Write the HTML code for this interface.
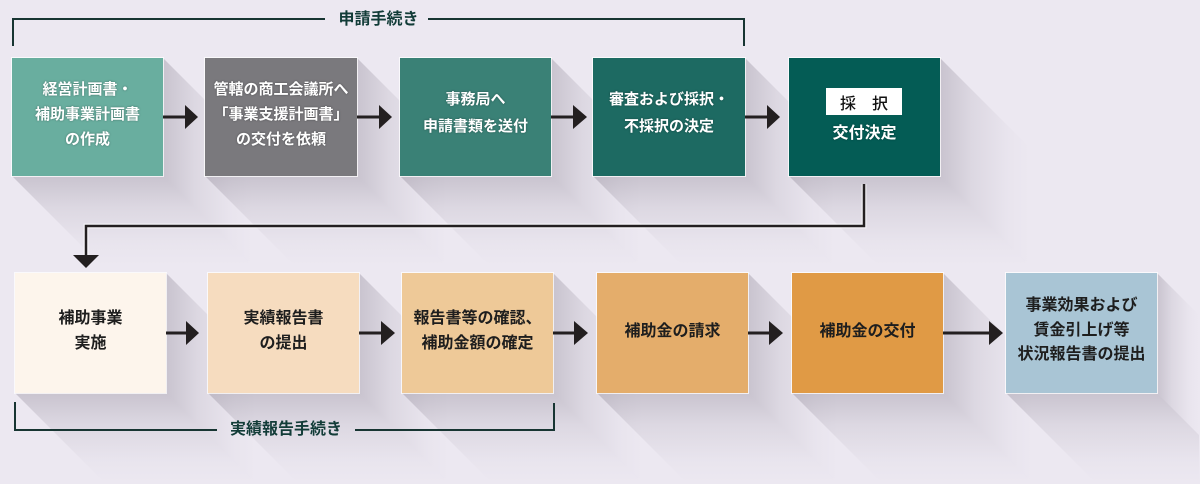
<!DOCTYPE html>
<html><head><meta charset="utf-8">
<style>
html,body{margin:0;padding:0;width:1200px;height:484px;overflow:hidden;}
body{background:#ece8f1;position:relative;font-family:"Liberation Sans","Noto Sans CJK JP",sans-serif;}
svg{position:absolute;left:0;top:0;}
.t{position:absolute;display:flex;flex-direction:column;align-items:center;justify-content:center;text-align:center;white-space:nowrap;}
.w{color:#fff;font-weight:700;font-size:15px;line-height:25px;text-shadow:0 0 2px rgba(0,0,0,0.35);}
.d{color:#1e1e1e;font-weight:700;font-size:16px;line-height:25px;}
.lbl{position:absolute;font-size:16px;color:#123c38;font-weight:700;white-space:nowrap;line-height:20px;}
</style></head><body>
<svg width="1200" height="484" viewBox="0 0 1200 484">
<defs>
<linearGradient id="gv" x1="0" y1="0" x2="0" y2="1">
<stop offset="0" stop-color="#3c3246" stop-opacity="0.2"/>
<stop offset="0.35" stop-color="#3c3246" stop-opacity="0.09"/>
<stop offset="0.75" stop-color="#3c3246" stop-opacity="0.02"/>
<stop offset="1" stop-color="#3c3246" stop-opacity="0"/>
</linearGradient>
<linearGradient id="gh" x1="0" y1="0" x2="1" y2="0">
<stop offset="0" stop-color="#3c3246" stop-opacity="0.2"/>
<stop offset="0.35" stop-color="#3c3246" stop-opacity="0.09"/>
<stop offset="0.75" stop-color="#3c3246" stop-opacity="0.02"/>
<stop offset="1" stop-color="#3c3246" stop-opacity="0"/>
</linearGradient>
</defs>
<!-- shadows top row (y 58-176) L=90 -->
<g>
<polygon points="12,176 163,176 253,266 102,266" fill="url(#gv)"/>
<polygon points="163,58 253,148 253,266 163,176" fill="url(#gh)"/>
<polygon points="205,176 357,176 447,266 295,266" fill="url(#gv)"/>
<polygon points="357,58 447,148 447,266 357,176" fill="url(#gh)"/>
<polygon points="400,176 551,176 641,266 490,266" fill="url(#gv)"/>
<polygon points="551,58 641,148 641,266 551,176" fill="url(#gh)"/>
<polygon points="593,176 745,176 835,266 683,266" fill="url(#gv)"/>
<polygon points="745,58 835,148 835,266 745,176" fill="url(#gh)"/>
<polygon points="789,176 940,176 1030,266 879,266" fill="url(#gv)"/>
<polygon points="940,58 1030,148 1030,266 940,176" fill="url(#gh)"/>
</g>
<!-- shadows bottom row (y 273-393) L=90 -->
<g>
<polygon points="15,393 166,393 256,483 105,483" fill="url(#gv)"/>
<polygon points="166,273 256,363 256,483 166,393" fill="url(#gh)"/>
<polygon points="208,393 359,393 449,483 298,483" fill="url(#gv)"/>
<polygon points="359,273 449,363 449,483 359,393" fill="url(#gh)"/>
<polygon points="402,393 553,393 643,483 492,483" fill="url(#gv)"/>
<polygon points="553,273 643,363 643,483 553,393" fill="url(#gh)"/>
<polygon points="597,393 748,393 838,483 687,483" fill="url(#gv)"/>
<polygon points="748,273 838,363 838,483 748,393" fill="url(#gh)"/>
<polygon points="792,393 943,393 1033,483 882,483" fill="url(#gv)"/>
<polygon points="943,273 1033,363 1033,483 943,393" fill="url(#gh)"/>
<polygon points="1006,393 1157,393 1199,435 1199,483 1096,483" fill="url(#gv)"/>
<polygon points="1157,273 1199,315 1199,435 1157,393" fill="url(#gh)"/>
</g>
<!-- brackets -->
<g fill="none" stroke="#173532" stroke-width="2">
<polyline points="13,46 13,19 325,19"/>
<polyline points="428,19 744,19 744,46"/>
<polyline points="15,402 15,430 217,430"/>
<polyline points="355,430 554,430 554,403"/>
</g>
<!-- down connector -->
<polyline points="864,184 864,226 86,226 86,257" fill="none" stroke="#ffffff" stroke-width="5" opacity="0.6"/>
<polyline points="864,184 864,226 86,226 86,257" fill="none" stroke="#231f20" stroke-width="2.5"/>
<polygon points="73,255 99,255 86,268" fill="#231f20"/>
<!-- box outlines -->
<g fill="#ffffff" opacity="0.75">
<rect x="11" y="57" width="153" height="120"/>
<rect x="204" y="57" width="154" height="120"/>
<rect x="399" y="57" width="153" height="120"/>
<rect x="592" y="57" width="154" height="120"/>
<rect x="788" y="57" width="153" height="120"/>
<rect x="14" y="272" width="153" height="122"/>
<rect x="207" y="272" width="153" height="122"/>
<rect x="401" y="272" width="153" height="122"/>
<rect x="596" y="272" width="153" height="122"/>
<rect x="791" y="272" width="153" height="122"/>
<rect x="1005" y="272" width="153" height="122"/>
</g>
<!-- boxes -->
<rect x="12" y="58" width="151" height="118" fill="#69ae9f"/>
<rect x="205" y="58" width="152" height="118" fill="#7a797d"/>
<rect x="400" y="58" width="151" height="118" fill="#3a8176"/>
<rect x="593" y="58" width="152" height="118" fill="#1d6a62"/>
<rect x="789" y="58" width="151" height="118" fill="#045c55"/>
<rect x="826" y="88" width="76" height="27" fill="#ffffff"/>
<rect x="15" y="273" width="151" height="120" fill="#fdf5ec"/>
<rect x="208" y="273" width="151" height="120" fill="#f6dcbf"/>
<rect x="402" y="273" width="151" height="120" fill="#eec998"/>
<rect x="597" y="273" width="151" height="120" fill="#e4ad6b"/>
<rect x="792" y="273" width="151" height="120" fill="#e09a45"/>
<rect x="1006" y="273" width="151" height="120" fill="#a9c5d5"/>
<!-- arrows -->
<g stroke="#231f20" stroke-width="3">
<line x1="163" y1="117" x2="187" y2="117"/>
<line x1="357" y1="117" x2="381" y2="117"/>
<line x1="551" y1="117" x2="575" y2="117"/>
<line x1="745" y1="117" x2="768" y2="117"/>
<line x1="166" y1="333" x2="188" y2="333"/>
<line x1="359" y1="333" x2="383" y2="333"/>
<line x1="553" y1="333" x2="576" y2="333"/>
<line x1="748" y1="333" x2="771" y2="333"/>
<line x1="943" y1="333" x2="991" y2="333"/>
</g>
<g fill="#231f20">
<polygon points="185,105 198,117 185,129"/>
<polygon points="379,105 392,117 379,129"/>
<polygon points="573,105 587,117 573,129"/>
<polygon points="767,105 780,117 767,129"/>
<polygon points="186,321 199,333 186,345"/>
<polygon points="381,321 395,333 381,345"/>
<polygon points="574,321 588,333 574,345"/>
<polygon points="769,321 783,333 769,345"/>
<polygon points="989,321 1003,333 989,345"/>
</g>
</svg>

<div class="lbl" style="left:331px;top:10px;width:95px;text-align:center;">申請手続き</div>
<div class="lbl" style="left:222px;top:420px;width:128px;text-align:center;">実績報告手続き</div>

<div class="t w" style="left:12px;top:55px;width:151px;height:118px;"><div>経営計画書・</div><div>補助事業計画書</div><div>の作成</div></div>
<div class="t w" style="left:205px;top:55px;width:152px;height:118px;"><div>管轄の商工会議所へ</div><div>「事業支援計画書」</div><div>の交付を依頼</div></div>
<div class="t w" style="left:400px;top:54px;width:151px;height:118px;line-height:27px;"><div>事務局へ</div><div>申請書類を送付</div></div>
<div class="t w" style="left:593px;top:54px;width:152px;height:118px;line-height:27px;"><div>審査および採択・</div><div>不採択の決定</div></div>
<div class="t" style="left:826px;top:88px;width:76px;height:27px;color:#111;font-size:16px;font-weight:500;">採　択</div>
<div class="t w" style="left:789px;top:121px;width:151px;height:24px;font-size:16px;">交付決定</div>

<div class="t d" style="left:15px;top:271px;width:151px;height:120px;"><div>補助事業</div><div>実施</div></div>
<div class="t d" style="left:208px;top:271px;width:151px;height:120px;"><div>実績報告書</div><div>の提出</div></div>
<div class="t d" style="left:402px;top:271px;width:151px;height:120px;"><div>報告書等の確認、</div><div>補助金額の確定</div></div>
<div class="t d" style="left:597px;top:271px;width:151px;height:120px;"><div>補助金の請求</div></div>
<div class="t d" style="left:792px;top:271px;width:151px;height:120px;"><div>補助金の交付</div></div>
<div class="t d" style="left:1006px;top:271px;width:151px;height:120px;line-height:24.5px;"><div>事業効果および</div><div>賃金引上げ等</div><div>状況報告書の提出</div></div>
</body></html>
